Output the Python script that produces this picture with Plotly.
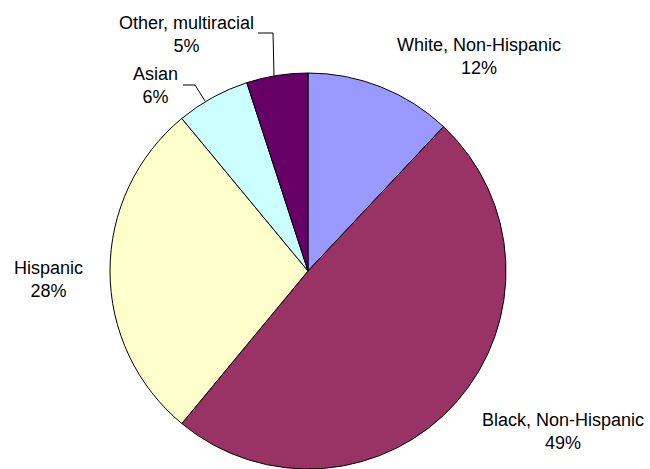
import plotly.graph_objects as go

# Data
labels = ["White, Non-Hispanic", "Black, Non-Hispanic", "Hispanic", "Asian", "Other, multiracial"]
values = [12, 49, 28, 6, 5]
colors = ["#9999FF", "#993366", "#FFFFCC", "#CCFFFF", "#660066"]

W, H = 650, 469

def px(x):
    return x / W

def py(y):
    return 1 - y / H

# Pie geometry (pixels): centre (308, 271), radius 198
cx, cy, r = 308, 271, 198

fig = go.Figure(go.Pie(
    labels=labels,
    values=values,
    sort=False,
    direction="clockwise",
    rotation=0,
    marker=dict(colors=colors, line=dict(color="black", width=1)),
    textinfo="none",
    hoverinfo="label+percent",
    showlegend=False,
    domain=dict(x=[px(cx - r), px(cx + r)], y=[py(cy + r), py(cy - r)]),
))

font = dict(family="Arial, Liberation Sans, sans-serif", size=18, color="black")

# label positions (pixel centres)
label_pos = {
    "White, Non-Hispanic": (479, 57),
    "Black, Non-Hispanic": (563, 431),
    "Hispanic": (48, 279),
    "Asian": (155, 86),
    "Other, multiracial": (186, 34),
}

total = sum(values)
annotations = []
for lab, val in zip(labels, values):
    x, y = label_pos[lab]
    annotations.append(dict(
        x=px(x), y=py(y), xref="paper", yref="paper",
        text=f"{lab}<br>{round(val / total * 100)}%",
        showarrow=False, font=font, align="center",
        xanchor="center", yanchor="middle",
    ))

def path(points):
    d = "M " + " L ".join(f"{px(x)},{py(y)}" for x, y in points)
    return d

shapes = [
    dict(type="path", xref="paper", yref="paper",
         path=path([(258, 33), (273, 33), (274, 76)]),
         line=dict(color="black", width=1)),
    dict(type="path", xref="paper", yref="paper",
         path=path([(183, 85), (195, 85), (205, 101)]),
         line=dict(color="black", width=1)),
]

fig.update_layout(
    width=W, height=H,
    margin=dict(l=0, r=0, t=0, b=0),
    paper_bgcolor="white",
    plot_bgcolor="white",
    annotations=annotations,
    shapes=shapes,
)

fig.write_html("out.html")
